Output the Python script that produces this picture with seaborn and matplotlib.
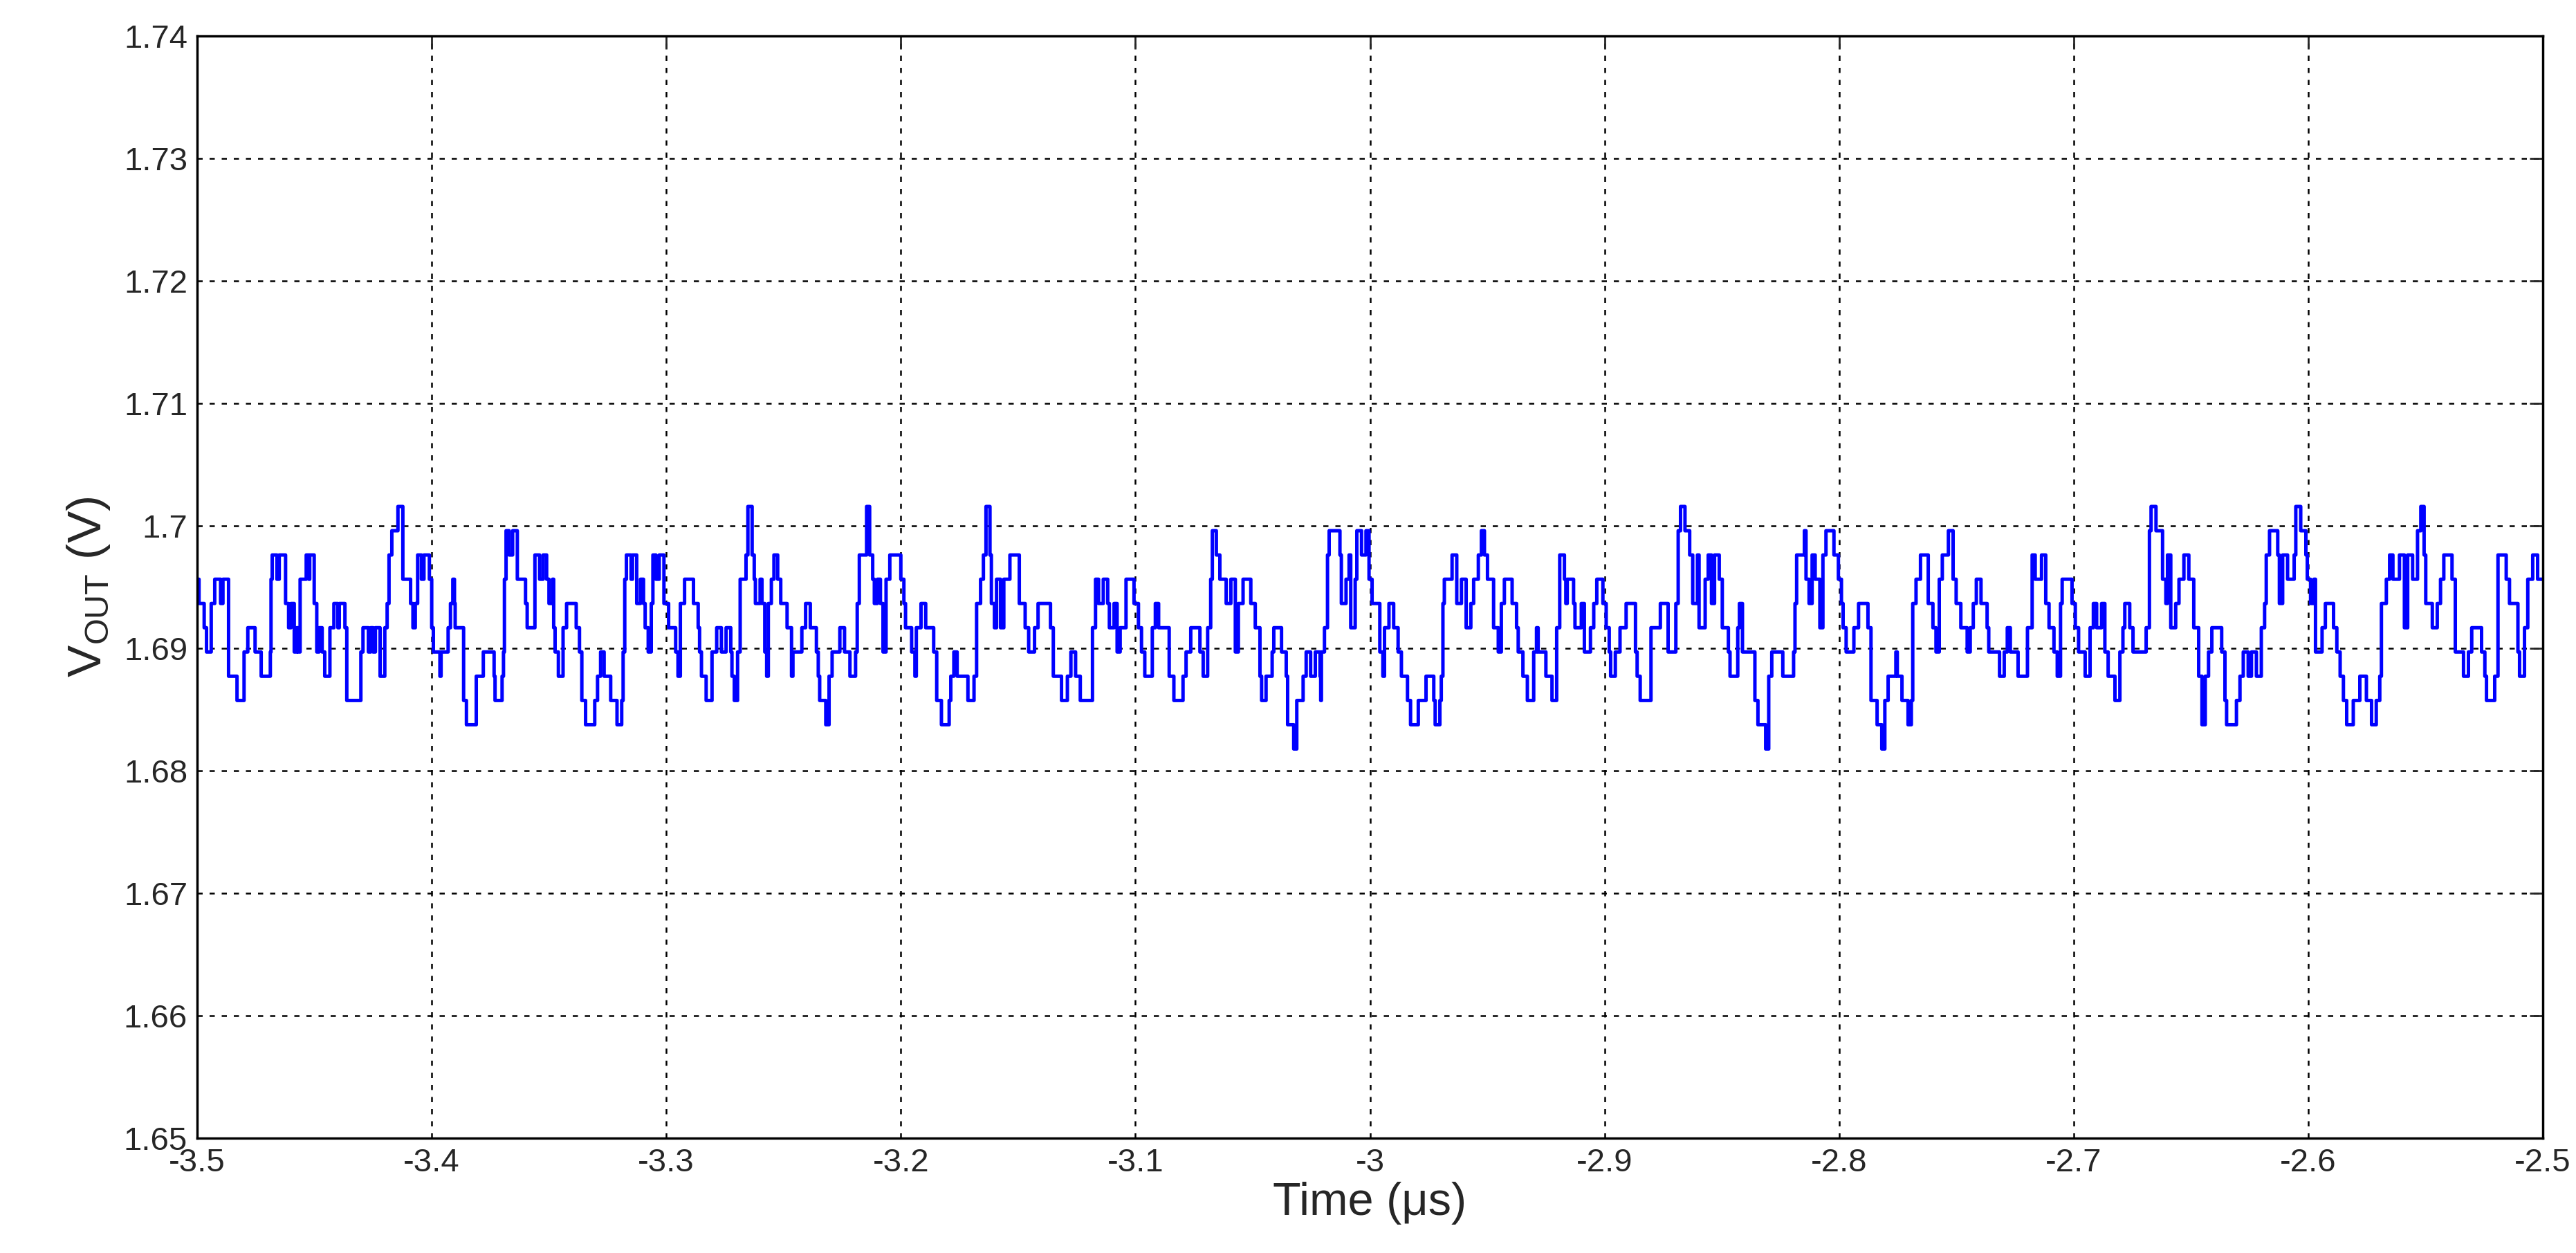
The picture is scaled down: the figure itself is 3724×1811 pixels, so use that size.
import matplotlib
matplotlib.use("Agg")
import matplotlib.pyplot as plt
import numpy as np
import pandas as pd
import seaborn as sns

# breakpoints as (time offset from -3.5 us in ns, quantized level index)
steps = [
    (0, 3), (0.8, 2), (3, 1), (4, 0), (6, 2), (7.5, 3), (10, 2), (11, 3), (13.4, -1), (17, -2),
    (20, 0), (21.6, 1), (24.7, 0), (27.3, -1), (31.2, 0), (31.5, 3), (32, 4), (34, 3), (35, 4), (37.7, 2),
    (39, 1), (40, 2), (41.4, 0), (42.5, 1), (43, 0), (43.9, 3), (46.5, 4), (47.6, 3), (48, 4), (49.9, 2),
    (51, 0), (52, 1), (53.3, 0), (54.4, -1), (56.6, 1), (58.3, 2), (60, 1), (60.6, 2), (63, 1), (63.8, -2),
    (69.8, 0), (70.7, 1), (73, 0), (74, 1), (75, 0), (76, 1), (78, -1), (80, 1), (81, 2), (81.8, 4),
    (83, 5), (85.6, 6), (87.7, 3), (91, 2), (92, 1), (93, 2), (94, 4), (95.6, 3), (96.7, 4), (99, 3),
    (100, 1), (100.7, 0), (103.5, -1), (104, 0), (107, 1), (108, 2), (109, 3), (109.7, 2), (110, 1), (113.6, -2),
    (114.8, -3), (119, -1), (122, 0), (126.6, -1), (127, -2), (130, -1), (130.6, 0), (131, 3), (131.7, 5), (133, 4),
    (134.5, 5), (136.5, 3), (140, 2), (140.7, 1), (144, 4), (146, 3), (147.5, 4), (149, 3), (150, 2), (151.5, 3),
    (152, 1), (152.6, 0), (154, -1), (156, 1), (157.5, 2), (161.6, 1), (163, 0), (164, -2), (165.6, -3), (169.5, -2),
    (170.7, -1), (172, 0), (173.5, -1), (176.3, -2), (179, -3), (181, -2), (181.6, 0), (182.3, 3), (183, 4), (185, 3),
    (185.6, 4), (187.4, 2), (189, 3), (190.3, 2), (191, 1), (192.3, 0), (193.6, 2), (194.3, 4), (195.6, 3), (197, 4),
    (199, 2), (201, 1), (204, 0), (205, -1), (206, 2), (207.8, 3), (211.6, 2), (213.6, 1), (214.2, 0), (215, -1),
    (217, -2), (219.5, 0), (221.5, 1), (223.5, 0), (225.5, 1), (227.5, 0), (228, -1), (229, -2), (230.4, 0), (231.5, 3),
    (234, 4), (234.8, 6), (236.6, 4), (237.5, 3), (238, 2), (240, 3), (240.8, 2), (242, 0), (242.8, -1), (243.5, 2),
    (244.8, 3), (245.9, 4), (247.5, 3), (248.8, 2), (251.5, 1), (253.4, -1), (254, 0), (257.8, 1), (259.4, 2), (261.4, 1),
    (264, 0), (264.8, -1), (265.4, -2), (268, -3), (269.4, -1), (270.7, 0), (274, 1), (276, 0), (278.3, -1), (280.7, 0),
    (281.4, 2), (282.3, 4), (285.4, 6), (286.7, 4), (288, 3), (288.7, 2), (290, 3), (291.3, 2), (292.4, 0), (293.7, 3),
    (295.3, 4), (300, 3), (301.3, 2), (302, 1), (304.6, 0), (306, -1), (306.6, 1), (308.6, 2), (310.6, 1), (314, 0),
    (315.3, -2), (317.3, -3), (320.6, -2), (321.3, -1), (322.6, 0), (324, -1), (328.6, -2), (331.2, -1), (332.3, 2), (334, 3),
    (335.2, 4), (336.3, 6), (338, 4), (338.6, 2), (339.9, 1), (340.8, 3), (342.5, 1), (343.9, 3), (346.5, 4), (350.5, 2),
    (353, 1), (354.5, 0), (357, 1), (358.5, 2), (363.8, 1), (365, -1), (368.5, -2), (371, -1), (372.5, 0), (374.5, -1),
    (376.5, -2), (379.7, -2), (381.7, 1), (383, 3), (384.3, 2), (386.3, 3), (388.2, 2), (388.9, 1), (390.9, 2), (392.2, 0),
    (393.5, 1), (396, 3), (399.4, 2), (401.3, 1), (402.6, 0), (404, -1), (407.2, 1), (408.5, 2), (409.9, 1), (414.4, -1),
    (416.4, -2), (420.3, -1), (421.6, 0), (423.6, 1), (427.5, 0), (428.9, -1), (430.8, 1), (432.1, 3), (432.8, 5), (434.5, 4),
    (436, 3), (438.7, 2), (440.7, 3), (442.6, 0), (443.9, 2), (445.9, 3), (449.2, 2), (451.1, 1), (453.1, -1), (453.8, -2),
    (455.7, -1), (458.3, 0), (459, 1), (462.3, 0), (464.3, -1), (464.9, -3), (467.5, -4), (468.8, -2), (471.5, -1), (472.8, 0),
    (474.7, -1), (476.7, 0), (478.7, -1), (479, -2), (479.3, 0), (480.6, 1), (481.9, 4), (482.6, 5), (487.2, 4), (487.8, 2),
    (489.8, 3), (491.1, 4), (491.8, 1), (493.7, 3), (494.4, 5), (496.4, 4), (498.3, 5), (499.6, 3), (500.9, 2), (504.2, 0),
    (505.5, -1), (506.2, 1), (508.1, 2), (510.1, 1), (512, 0), (513.4, -1), (516, -2), (517.3, -3), (520.6, -2), (523.9, -1),
    (527.2, -2), (527.8, -3), (529.8, -2), (530.4, -1), (531.1, 2), (531.7, 3), (535, 4), (537, 2), (539, 3), (541, 1),
    (543, 2), (544.2, 3), (546.2, 4), (547.5, 5), (548.8, 4), (550.1, 3), (552.7, 1), (554.7, 0), (556, 2), (557.3, 3),
    (560.6, 2), (562.5, 1), (563.2, 0), (565.2, -1), (567.1, -2), (569.8, 0), (571, 1), (571.7, 0), (575, -1), (577.6, -2),
    (579.6, 1), (580.9, 4), (582.9, 3), (583.5, 2), (584.1, 3), (586.8, 2), (587.4, 1), (590.1, 2), (591.4, 0), (594, 1),
    (595.4, 2), (596.7, 3), (599.3, 2), (600.7, 1), (602, 0), (602.6, -1), (604.6, 0), (606.6, 1), (609.2, 2), (613.2, 0),
    (613.9, -1), (615.2, -2), (619.8, 1), (623.8, 2), (627.1, 0), (630.4, 2), (631.4, 5), (632.4, 6), (634.3, 5), (636.3, 4),
    (637.6, 2), (639.6, 4), (640.3, 1), (642.9, 3), (644.2, 4), (645.6, 2), (646.9, 4), (648.9, 3), (650.2, 1), (652.8, 0),
    (653.5, -1), (656.8, 1), (657.5, 2), (658.8, 0), (664.1, -2), (665.4, -3), (668.7, -4), (670, -1), (671.3, 0), (676, -1),
    (680.6, 0), (681.2, 2), (681.9, 4), (685.2, 5), (685.9, 3), (687.2, 2), (688.5, 4), (689.8, 3), (691.8, 1), (693.1, 4),
    (694.4, 5), (697.8, 4), (699.7, 3), (701, 2), (701.7, 1), (703, 0), (706.3, 1), (708.3, 2), (712.3, 1), (713.6, -2),
    (716.2, -3), (718.2, -4), (719.5, -2), (720.9, -1), (724.2, 0), (724.8, -1), (726.8, -2), (729.4, -3), (730.8, -2), (731.4, 2),
    (732.8, 3), (734.7, 4), (738, 2), (740, 1), (741.3, 0), (742.7, 3), (744, 4), (746.6, 5), (748.6, 3), (749.9, 2),
    (751.9, 1), (754.6, 0), (755.9, 1), (757.2, 2), (758.5, 3), (760.5, 2), (763.1, 1), (763.8, 0), (768.4, -1), (770.4, 0),
    (771.7, 1), (773, 0), (776.3, -1), (780.3, 1), (782.3, 4), (783.6, 3), (786.3, 4), (788.1, 2), (789.5, 1), (791.6, 0),
    (793, -1), (794.4, 2), (795.1, 3), (799.3, 2), (800.7, 1), (802.1, 0), (804.9, -1), (807, 1), (808.4, 2), (809.8, 1),
    (811.9, 2), (813.3, 0), (814.7, -1), (817.6, -2), (819.7, 0), (821, 1), (821.8, 2), (823.9, 1), (825.3, 0), (830.9, 1),
    (832.3, 5), (833, 6), (835.1, 5), (837.9, 3), (839.3, 2), (840, 4), (841.4, 1), (843.5, 2), (844.9, 3), (847, 4),
    (849.1, 3), (851.2, 1), (853.3, -1), (854.7, -3), (856.1, -1), (857.5, 0), (858.9, 1), (863.1, 0), (864.5, -2), (865.2, -3),
    (869.4, -2), (870.9, -1), (872.3, 0), (874.4, -1), (875.8, 0), (877.9, -1), (880, 1), (881.4, 2), (882.1, 4), (883.5, 5),
    (887, 4), (887.7, 2), (889.1, 4), (891.2, 3), (894, 4), (894.7, 6), (896.8, 5), (899, 4), (899.6, 3), (901, 2),
    (902.4, 3), (903.1, 0), (905.9, 1), (907.3, 2), (910.8, 1), (912.2, 0), (913.6, -1), (915, -2), (916.4, -3), (919.2, -2),
    (922, -1), (924.8, -2), (927, -3), (929, -2), (930.5, -1), (931.2, 2), (933.3, 3), (934.7, 4), (936.1, 3), (938.9, 4),
    (941, 1), (942.4, 4), (944.5, 3), (946.6, 5), (948, 6), (949.4, 4), (950.1, 2), (952.9, 1), (955, 2), (956.4, 3),
    (957.8, 4), (961.3, 3), (962.7, 0), (966.2, -1), (968.3, 0), (969.7, 1), (973.9, 0), (975.3, -1), (976, -2), (979.5, -1),
    (980.9, 4), (984.4, 3), (985.8, 2), (989.4, 0), (990.1, -1), (992.2, 1), (993.6, 3), (995.7, 4), (997.8, 3), (1000, 3),
]
t_ns = [s[0] for s in steps]
level = [s[1] for s in steps]

x_ticks = [-3.5, -3.4, -3.3, -3.2, -3.1, -3, -2.9, -2.8, -2.7, -2.6, -2.5]
x_labels = ['-3.5', '-3.4', '-3.3', '-3.2', '-3.1', '-3', '-2.9', '-2.8', '-2.7', '-2.6', '-2.5']
y_ticks = [1.65, 1.66, 1.67, 1.68, 1.69, 1.70, 1.71, 1.72, 1.73, 1.74]
y_labels = ['1.65', '1.66', '1.67', '1.68', '1.69', '1.7', '1.71', '1.72', '1.73', '1.74']


def main():
    df = pd.DataFrame({'Time': -3.5 + np.array(t_ns) / 1000.0,
                       'Vout': 1.6897 + 0.00198 * np.array(level, dtype=float)})

    sns.set_style("white")
    plt.rcParams['font.family'] = ['Liberation Sans', 'DejaVu Sans']
    fig = plt.figure(figsize=(37.24, 18.11), dpi=100)
    ax = fig.add_axes([285 / 3724, 1 - 1645 / 1811, (3676 - 285) / 3724, (1645 - 52) / 1811])

    sns.lineplot(x='Time', y='Vout', data=df, ax=ax, color='#0000ff', linewidth=3.6,
                 drawstyle='steps-post', estimator=None)

    ax.set_xlim(-3.5, -2.5)
    ax.set_ylim(1.65, 1.74)
    ax.set_xticks(x_ticks)
    ax.set_xticklabels(x_labels)
    ax.set_yticks(y_ticks)
    ax.set_yticklabels(y_labels)
    ax.tick_params(direction='in', length=14, width=2, labelsize=34, top=True, right=True, pad=10)
    ax.grid(True, color='black', linestyle=(0, (3, 4)), linewidth=1.8)
    for s in ax.spines.values():
        s.set_color('black')
        s.set_linewidth(2.5)
    ax.set_xlabel('Time (\u03bcs)', fontsize=48, labelpad=4)
    ax.set_ylabel('V$_{\\mathregular{OUT}}$ (V)', fontsize=50, labelpad=12)

    fig.savefig('out.png', dpi=100)
    plt.close(fig)


if __name__ == "__main__":
    main()
